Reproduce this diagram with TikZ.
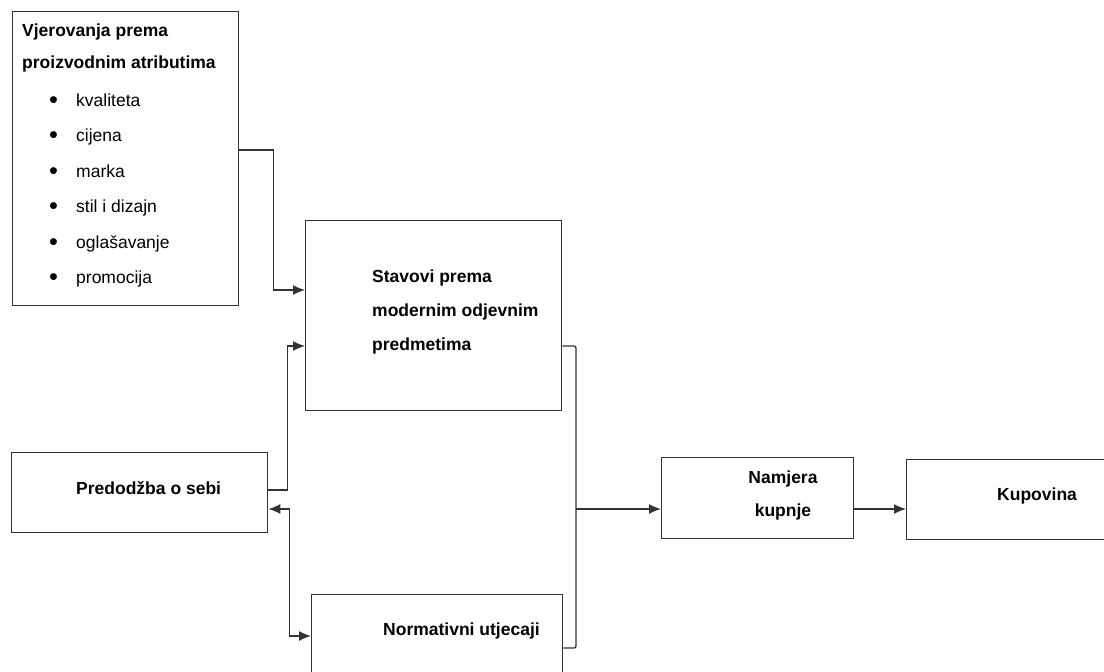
\documentclass[tikz,border=0pt]{standalone}
\usepackage{fontspec}
\setmainfont{Liberation Sans}
\usetikzlibrary{positioning}
\usetikzlibrary{arrows.meta}

\tikzset{
  box/.style={draw=black!80, line width=1.4pt, inner sep=0pt, anchor=north west},
  lbl/.style={inner sep=0pt, anchor=base west, font=\fontsize{17.5}{21}\selectfont},
  lblb/.style={lbl, font=\fontsize{17.5}{21}\selectfont\bfseries},
  link/.style={draw=black!80, line width=1.3pt},
  tip/.tip={Latex[length=12pt,width=10pt]},
  arr/.style={link, -tip},
}

\begin{document}
\begin{tikzpicture}[x=1pt,y=-1pt]
 \useasboundingbox (0,0) rectangle (1104,672);
 \clip (0,0) rectangle (1104,672);
 % boxes
 \node[box, minimum width=226pt, minimum height=294pt] (vjer) at (12,11) {};
 \node[box, minimum width=256pt, minimum height=190pt] (stav) at (305,220) {};
 \node[box, minimum width=256pt, minimum height=80pt] (pred) at (11,452) {};
 \node[box, minimum width=251pt, minimum height=100pt] (norm) at (311,594) {};
 \node[box, minimum width=192pt, minimum height=81pt] (namj) at (661,457) {};
 \node[box, minimum width=260pt, minimum height=80pt] (kup) at (906,459) {};
 % texts
 \node[lblb] (vjer1) at (22,36) {Vjerovanja prema};
 \node[lblb] (vjer2) at (22,68) {proizvodnim atributima};
 \foreach \attr [count=\i] in {kvaliteta,cijena,marka,stil i dizajn,oglašavanje,promocija}
   \node[lbl] (attr\i) at (49,{70.5+35.5*\i}) {\makebox[27pt][l]{\raisebox{-2.2pt}{\scalebox{1.45}{\textbullet}}}\attr};
 \node[lblb] (stav1) at (372,282) {Stavovi prema};
 \node[lblb] (stav2) at (372,316) {modernim odjevnim};
 \node[lblb] (stav3) at (372,350) {predmetima};
 \node[lblb] (predt) at (76,494) {Predodžba o sebi};
 \node[lblb] (normt) at (383,635) {Normativni utjecaji};
 \node[lblb, anchor=base] (namj1) at (783,483) {Namjera};
 \node[lblb, anchor=base] (namj2) at (783,516) {kupnje};
 \node[lblb] (kupt) at (997,500) {Kupovina};
 % connectors
 \coordinate (join) at (576,509);
 \draw[arr] (vjer.east |- 0,150) -- ++(34,0) |- (stav.west |- 0,290);
 \draw[arr] (pred.east |- 0,490) -- ++(19,0) |- (stav.west |- 0,346);
 \draw[link, tip-tip] (pred.east |- 0,509) -- ++(21,0) |- (norm.west |- 0,636);
 \draw[link, rounded corners=2pt] (stav.east |- 0,346) -| (join) |- (norm.east |- 0,648);
 \draw[arr] (join) -- (namj.west |- join);
 \draw[arr] (namj.east |- join) -- (kup.west |- join);
\end{tikzpicture}
\end{document}
